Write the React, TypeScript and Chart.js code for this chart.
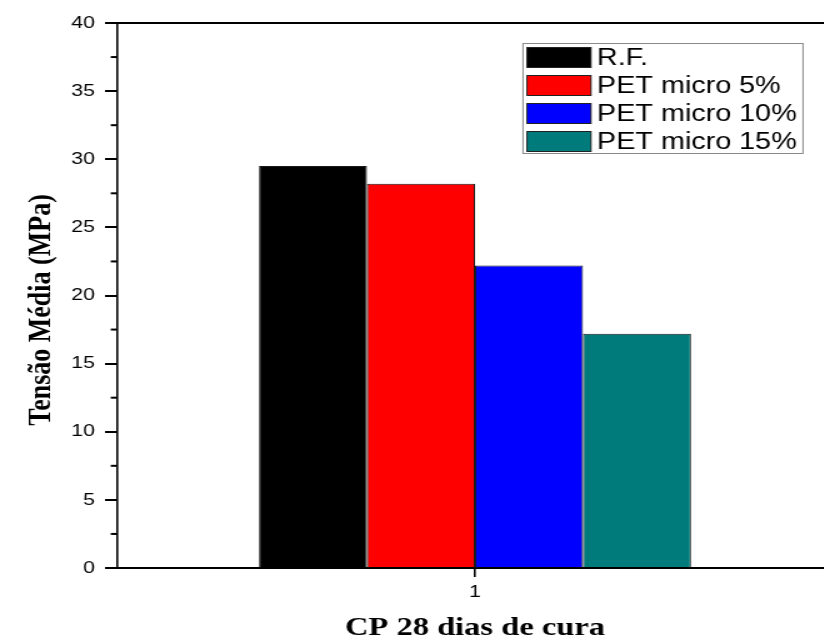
import React, { useEffect, useRef } from "react";
import { Chart, registerables } from "chart.js";

Chart.register(...registerables);

const categories = ["1"];
const seriesLabels = ["R.F.", "PET micro 5%", "PET micro 10%", "PET micro 15%"];
const seriesValues = [29.5, 28.2, 22.2, 17.2];
const seriesColors = ["#000000", "#ff0000", "#0000ff", "#007b7b"];
const yMin = 0;
const yMax = 40;
const yStep = 5;
const yTitle = "Tensão Média (MPa)";
const xTitle = "CP 28 dias de cura";

const STRETCH = 1.25;
const CW = 672;
const CH = 639;

const framePlugin = {
  id: "framePlugin",
  afterDraw(chart: any) {
    const { ctx, chartArea } = chart;
    const y = chart.scales.y;
    ctx.save();
    // top frame line
    ctx.strokeStyle = "#000";
    ctx.lineWidth = 2;
    ctx.beginPath();
    ctx.moveTo(chartArea.left, chartArea.top);
    ctx.lineTo(chart.width, chartArea.top);
    ctx.stroke();
    // minor ticks
    const ticks = y.ticks.map((t: any) => t.value);
    ctx.lineWidth = 2;
    for (let i = 0; i < ticks.length - 1; i++) {
      const mid = (ticks[i] + ticks[i + 1]) / 2;
      const py = y.getPixelForValue(mid);
      ctx.beginPath();
      ctx.moveTo(chartArea.left - 5, py);
      ctx.lineTo(chartArea.left, py);
      ctx.stroke();
    }
    // y title
    ctx.save();
    ctx.translate(32.8, 310);
    ctx.rotate(-Math.PI / 2);
    ctx.font = 'bold 26px "Liberation Serif", "Times New Roman", serif';
    ctx.fillStyle = "#000";
    ctx.textAlign = "center";
    ctx.textBaseline = "middle";
    ctx.fillText(yTitle, 0, 0);
    ctx.restore();
    // legend
    const lx = 418.4, ly = 43, lw = 224, lh = 110;
    ctx.fillStyle = "#fff";
    ctx.fillRect(lx, ly, lw, lh);
    ctx.strokeStyle = "#8a8a8a";
    ctx.lineWidth = 1;
    ctx.strokeRect(lx, ly + 0.5, lw, lh);
    ctx.font = '23px "Liberation Sans", Arial, sans-serif';
    ctx.textAlign = "left";
    ctx.textBaseline = "alphabetic";
    chart.data.datasets.forEach((ds: any, i: number) => {
      const sy = 47 + 28 * i;
      ctx.fillStyle = ds.backgroundColor;
      ctx.fillRect(421.6, sy, 51.2, 20);
      ctx.strokeStyle = "#222";
      ctx.lineWidth = 1;
      ctx.strokeRect(421.6, sy + 0.5, 51.2, 20);
      ctx.fillStyle = "#000";
      ctx.fillText(ds.label, 477.6, 65 + 28 * i);
    });
    ctx.restore();
  },
};

export default function App() {
  const ref = useRef<HTMLCanvasElement | null>(null);
  useEffect(() => {
    if (!ref.current) return;
    const chart = new Chart(ref.current, {
      type: "bar",
      data: {
        labels: categories,
        datasets: seriesLabels.map((label, i) => ({
          label,
          data: [seriesValues[i]],
          backgroundColor: seriesColors[i],
          borderColor: "#1a1a1a",
          borderWidth: 1,
          barPercentage: 1,
          categoryPercentage: 0.6034,
        })),
      },
      options: {
        animation: false,
        responsive: false,
        maintainAspectRatio: false,
        layout: { padding: { top: 23, right: CW - 666.4, left: 0, bottom: 0 } },
        plugins: {
          legend: { display: false },
          tooltip: { enabled: false },
        },
        scales: {
          x: {
            grid: {
              display: true,
              drawOnChartArea: false,
              drawTicks: true,
              offset: false,
              tickLength: 9,
              color: "#000",
              lineWidth: 1.6,
            },
            border: { display: true, color: "#000", width: 2 },
            ticks: {
              color: "#000",
              font: { family: '"Liberation Sans", Arial, sans-serif', size: 17 },
              padding: 5,
            },
            title: {
              display: true,
              text: xTitle,
              color: "#000",
              font: { family: '"Liberation Serif", "Times New Roman", serif', size: 26, weight: "bold", lineHeight: 0.8 },
              padding: { top: 0, bottom: 0 },
            },
            afterFit(scale: any) {
              scale.height = CH - 568;
            },
          },
          y: {
            min: yMin,
            max: yMax,
            ticks: {
              stepSize: yStep,
              color: "#000",
              font: { family: '"Liberation Sans", Arial, sans-serif', size: 17 },
              padding: 8,
            },
            grid: {
              display: true,
              drawOnChartArea: false,
              drawTicks: true,
              tickLength: 9.6,
              color: "#000",
              lineWidth: 2,
            },
            border: { display: true, color: "#000", width: 1.6 },
            afterFit(scale: any) {
              scale.width = 93.6;
            },
          },
        },
      },
      plugins: [framePlugin],
    });
    return () => chart.destroy();
  }, []);

  return (
    <div
      style={{
        position: "fixed",
        left: 0,
        top: 0,
        width: 824,
        height: 639,
        overflow: "hidden",
        background: "#fff",
      }}
    >
      <div
        style={{
          width: CW,
          height: CH,
          transform: `scaleX(${STRETCH})`,
          transformOrigin: "0 0",
        }}
      >
        <canvas ref={ref} width={CW} height={CH} style={{ width: CW, height: CH, display: "block" }} />
      </div>
    </div>
  );
}
